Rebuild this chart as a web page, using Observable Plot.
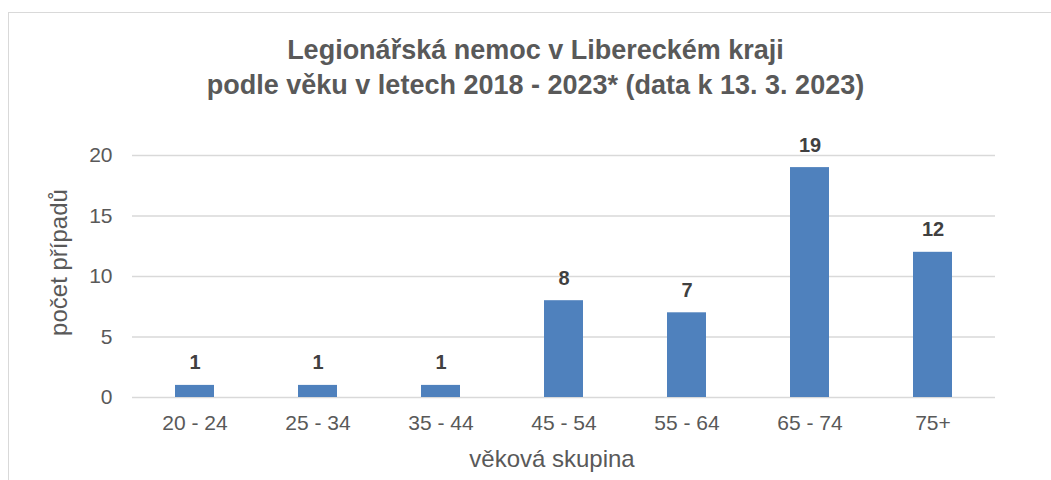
<!DOCTYPE html>
<html>
<head>
<meta charset="utf-8">
<script src="https://cdn.jsdelivr.net/npm/d3@7"></script>
<script src="https://cdn.jsdelivr.net/npm/@observablehq/plot@0.6"></script>
<style>
  html, body { margin: 0; padding: 0; background: #fff; overflow: hidden; }
  #wrap { position: relative; width: 1051px; height: 480px; overflow: hidden; font-family: "Liberation Sans", Arial, sans-serif; }
  #border { position: absolute; left: 8px; top: 12px; width: 1100px; height: 520px; border: 1.5px solid #d9d9d9; box-sizing: border-box; }
  #title { position: absolute; left: 0; top: 33px; width: 1071px; text-align: center; color: #595959; font-weight: bold; font-size: 27px; line-height: 35px; }
  #chart { position: absolute; left: 0; top: 120px; }
</style>
</head>
<body>
<div id="wrap">
  <div id="border"></div>
  <div id="title">Legionářská nemoc v Libereckém kraji<br>podle věku v letech 2018 - 2023* (data k 13. 3. 2023)</div>
  <div id="chart"></div>
</div>
<script>
const categories = ["20 - 24", "25 - 34", "35 - 44", "45 - 54", "55 - 64", "65 - 74", "75+"];
const counts = [1, 1, 1, 8, 7, 19, 12];
const yTicks = [0, 5, 10, 15, 20];
const xTitle = "věková skupina";
const yTitle = "počet případů";

const data = categories.map((c, i) => ({ group: c, count: counts[i] }));

const chart = Plot.plot({
  width: 1051,
  height: 360,
  marginTop: 35,
  marginBottom: 83,
  marginLeft: 132,
  marginRight: 56,
  style: { fontFamily: "'Liberation Sans', Arial, sans-serif", fontSize: "21px", color: "#595959", background: "transparent" },
  x: { domain: categories, paddingInner: 0.684, paddingOuter: 0.342, label: null },
  y: { domain: [0, 20], label: null },
  marks: [
    Plot.ruleY(yTicks, { stroke: "#d9d9d9", strokeWidth: 1.5 }),
    Plot.barY(data, { x: "group", y: "count", fill: "#4f81bd" }),
    Plot.text(data, { x: "group", y: "count", text: d => String(d.count), lineAnchor: "bottom", dy: -16, fontWeight: "bold", fontSize: 20, fill: "#404040" }),
    Plot.axisY({ ticks: yTicks, tickSize: 0, tickPadding: 20, label: null, fontSize: 21, fill: "#595959" }),
    Plot.axisX({ tickSize: 0, tickPadding: 18, label: null, fontSize: 21, fill: "#595959" }),
    Plot.text([yTitle], { frameAnchor: "left", text: d => d, rotate: -90, textAnchor: "middle", lineAnchor: "middle", dx: -73, dy: -14, fontSize: 24, fill: "#595959" }),
    Plot.text([xTitle], { frameAnchor: "bottom", text: d => d, textAnchor: "middle", lineAnchor: "middle", dx: -12, dy: 62, fontSize: 24, fill: "#595959" })
  ]
});
document.getElementById("chart").appendChild(chart);
</script>
</body>
</html>
